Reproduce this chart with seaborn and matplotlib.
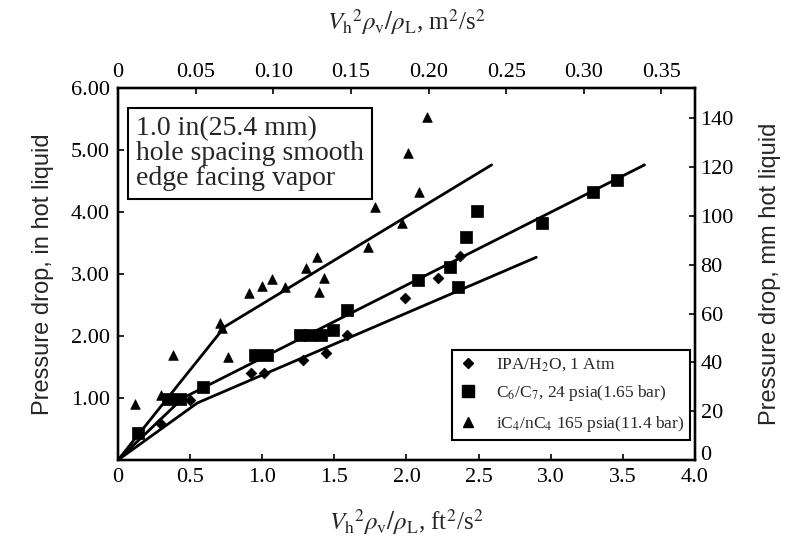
import matplotlib
matplotlib.use("Agg")
import matplotlib.pyplot as plt
from matplotlib.lines import Line2D
import matplotlib.transforms as mtransforms
import pandas as pd
import seaborn as sns

# Measured points: x = Vh^2*rho_v/rho_L (ft^2/s^2), y = pressure drop (in hot liquid)
ipa_x = [0.29, 0.50, 0.92, 1.01, 1.28, 1.44, 1.59, 1.99, 2.22, 2.37]
ipa_y = [0.60, 0.97, 1.40, 1.40, 1.61, 1.72, 2.02, 2.61, 2.93, 3.29]

c6_x = [0.14, 0.35, 0.43, 0.59, 0.95, 1.03, 1.26, 1.33, 1.41, 1.49,
        1.59, 2.08, 2.30, 2.36, 2.41, 2.49, 2.94, 3.29, 3.46]
c6_y = [0.44, 0.98, 0.98, 1.18, 1.69, 1.69, 2.01, 2.01, 2.02, 2.10,
        2.42, 2.90, 3.11, 2.79, 3.60, 4.02, 3.82, 4.32, 4.52]

c4_x = [0.12, 0.30, 0.38, 0.71, 0.72, 0.76, 0.91, 1.00, 1.07, 1.16,
        1.30, 1.38, 1.39, 1.43, 1.73, 1.78, 1.97, 2.01, 2.09, 2.14]
c4_y = [0.90, 1.05, 1.70, 2.21, 2.13, 1.66, 2.69, 2.80, 2.92, 2.79,
        3.10, 3.28, 2.71, 2.93, 3.43, 4.08, 3.82, 4.95, 4.32, 5.53]

# Correlation lines (break points)
ipa_line_x = [0.0, 0.55, 2.90]
ipa_line_y = [0.0, 0.92, 3.27]
c6_line_x = [0.0, 0.45, 3.65]
c6_line_y = [0.0, 1.00, 4.76]
c4_line_x = [0.0, 0.74, 2.59]
c4_line_y = [0.0, 2.15, 4.76]

series_names = ["IPA/H$_2$O, 1 Atm",
                "C$_6$/C$_7$, 24 psia(1.65 bar)",
                "iC$_4$/nC$_4$ 165 psia(11.4 bar)"]

x_ticks = [0, 0.5, 1.0, 1.5, 2.0, 2.5, 3.0, 3.5, 4.0]
x_tick_labels = ["0", "0.5", "1.0", "1.5", "2.0", "2.5", "3.0", "3.5", "4.0"]
y_ticks = [1, 2, 3, 4, 5, 6]
y_tick_labels = ["1.00", "2.00", "3.00", "4.00", "5.00", "6.00"]
mm_ticks = [0, 20, 40, 60, 80, 100, 120, 140]
m2_ticks = [0, 0.05, 0.10, 0.15, 0.20, 0.25, 0.30, 0.35]
m2_tick_labels = ["0", "0.05", "0.10", "0.15", "0.20", "0.25", "0.30", "0.35"]

FT2_TO_M2 = 0.0929
IN_TO_MM = 25.4
X_MAX = 4.0
Y_MAX = 6.0

sns.set_theme(style="white")
plt.rcParams["font.family"] = ["Liberation Serif", "DejaVu Serif"]
plt.rcParams["mathtext.fontset"] = "stix"
plt.rcParams["axes.linewidth"] = 1.6
plt.rcParams["axes.edgecolor"] = "black"

SANS = ["Liberation Sans", "DejaVu Sans"]

fig = plt.figure(figsize=(7.93, 5.42), dpi=100)
ax = fig.add_axes([0.1488, 0.1513, 0.7276, 0.6863])

def frame(xs, ys, name):
    return pd.DataFrame({"x": xs, "y": ys, "system": name})

pts = pd.concat([frame(ipa_x, ipa_y, series_names[0]),
                 frame(c6_x, c6_y, series_names[1]),
                 frame(c4_x, c4_y, series_names[2])], ignore_index=True)

marker_map = {series_names[0]: "D", series_names[1]: "s", series_names[2]: "^"}
size_map = {series_names[0]: 30, series_names[1]: 85, series_names[2]: 48}

for name in series_names:
    sns.scatterplot(data=pts[pts["system"] == name], x="x", y="y",
                    marker=marker_map[name], s=size_map[name],
                    color="black", edgecolor="black", linewidth=0.5,
                    legend=False, ax=ax, zorder=3)

for lx, ly in [(ipa_line_x, ipa_line_y), (c6_line_x, c6_line_y), (c4_line_x, c4_line_y)]:
    sns.lineplot(x=lx, y=ly, sort=False, estimator=None, color="black",
                 linewidth=2.0, ax=ax, zorder=2)

ax.set_xlim(0, X_MAX)
ax.set_ylim(0, Y_MAX)
ax.set_xticks(x_ticks)
ax.set_xticklabels(x_tick_labels)
ax.set_yticks(y_ticks)
ax.set_yticklabels(y_tick_labels)
ax.tick_params(axis="both", direction="in", length=4, width=1.2,
               labelsize=16, pad=6, colors="black")
ax.set_xlabel(r"$V_{\mathrm{h}}{}^{2}\rho_{\mathrm{v}}/\rho_{\mathrm{L}}$, ft$^{2}$/s$^{2}$",
              fontsize=18, labelpad=14)
ax.set_ylabel("Pressure drop, in hot liquid", fontsize=17,
              family=SANS, labelpad=12)

# Metric scales on the opposite axes
ax_mm = ax.twinx()
ax_mm.set_ylim(0, Y_MAX * IN_TO_MM)
ax_mm.set_yticks(mm_ticks)
ax_mm.tick_params(axis="y", direction="in", length=4, width=1.2,
                  labelsize=16, pad=4, colors="black")
ax_mm.set_ylabel("Pressure drop, mm hot liquid", fontsize=17,
                 family=SANS, labelpad=18)
# lift the zero label so it clears the bottom "4.0"
zero_lbl = ax_mm.get_yticklabels()[0]
zero_lbl.set_transform(zero_lbl.get_transform() +
                       mtransforms.ScaledTranslation(0, 5 / 72, fig.dpi_scale_trans))

ax_m2 = ax.twiny()
ax_m2.set_xlim(0, X_MAX * FT2_TO_M2)
ax_m2.set_xticks(m2_ticks)
ax_m2.set_xticklabels(m2_tick_labels)
ax_m2.tick_params(axis="x", direction="in", length=4, width=1.2,
                  labelsize=16, pad=4, colors="black")
ax_m2.set_xlabel(r"$V_{\mathrm{h}}{}^{2}\rho_{\mathrm{v}}/\rho_{\mathrm{L}}$, m$^{2}$/s$^{2}$",
                 fontsize=18, labelpad=24)

for a in (ax, ax_mm, ax_m2):
    for sp in a.spines.values():
        sp.set_linewidth(1.6)
        sp.set_color("black")

# Tray description box
ax.text(0.031, 0.925, "1.0 in(25.4 mm)\nhole spacing smooth\nedge facing vapor",
        transform=ax.transAxes, ha="left", va="top", fontsize=20,
        linespacing=1.0, zorder=5,
        bbox=dict(boxstyle="square,pad=0.3", fc="white", ec="black", lw=1.5))

handles = [Line2D([], [], linestyle="none", marker=marker_map[n], color="black",
                  markersize=ms) for n, ms in zip(series_names, [5, 8.5, 6.5])]
leg = ax.legend(handles, series_names, loc="lower right",
                bbox_to_anchor=(0.992, 0.054), fontsize=12.5, frameon=True,
                fancybox=False, edgecolor="black", framealpha=1,
                handlelength=1.2, handletextpad=1.0, labelspacing=0.6,
                borderpad=0.35, borderaxespad=0.0)
leg.get_frame().set_linewidth(1.5)

fig.savefig("out.png", dpi=100)
